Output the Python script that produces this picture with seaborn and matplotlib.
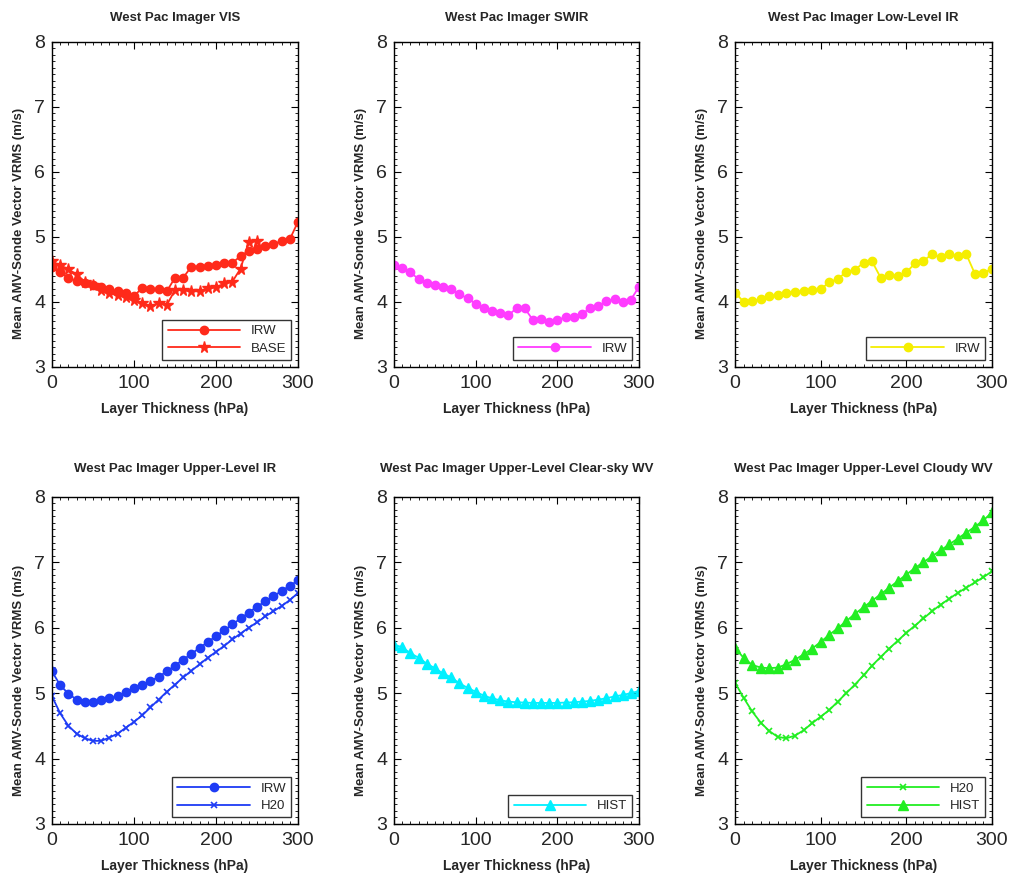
import numpy as np
import pandas as pd
import matplotlib
matplotlib.use("Agg")
import matplotlib.pyplot as plt
import seaborn as sns
from matplotlib.ticker import MultipleLocator

sns.set_theme(style="white")
plt.rcParams['font.family'] = ['Liberation Sans', 'DejaVu Sans']

# Layer thickness (hPa)
thick = list(range(0, 301, 10))
thick_base = list(range(0, 251, 10))

vis_irw = [4.54, 4.45, 4.37, 4.32, 4.29, 4.26, 4.22, 4.19, 4.16, 4.13, 4.09,
           4.21, 4.19, 4.19, 4.16, 4.37, 4.37, 4.54, 4.54, 4.55, 4.57, 4.59,
           4.60, 4.70, 4.78, 4.81, 4.85, 4.88, 4.94, 4.96, 5.23]
vis_base = [4.62, 4.56, 4.50, 4.42, 4.31, 4.26, 4.18, 4.13, 4.10, 4.07, 4.03,
            3.98, 3.93, 3.98, 3.95, 4.18, 4.18, 4.16, 4.16, 4.21, 4.22, 4.28,
            4.31, 4.51, 4.92, 4.94]
swir_irw = [4.57, 4.52, 4.45, 4.35, 4.29, 4.26, 4.23, 4.19, 4.12, 4.05, 3.97,
            3.90, 3.85, 3.82, 3.79, 3.90, 3.90, 3.72, 3.74, 3.69, 3.72, 3.76,
            3.76, 3.81, 3.90, 3.93, 4.01, 4.04, 4.00, 4.03, 4.23]
llir_irw = [4.14, 4.00, 4.01, 4.04, 4.08, 4.10, 4.14, 4.15, 4.16, 4.18, 4.19,
            4.30, 4.35, 4.46, 4.49, 4.60, 4.62, 4.37, 4.41, 4.40, 4.45, 4.59,
            4.63, 4.73, 4.68, 4.73, 4.70, 4.73, 4.43, 4.44, 4.51]
ulir_irw = [5.33, 5.12, 4.99, 4.90, 4.86, 4.86, 4.89, 4.92, 4.95, 5.01, 5.07,
            5.12, 5.18, 5.25, 5.33, 5.42, 5.51, 5.60, 5.69, 5.78, 5.87, 5.96,
            6.05, 6.14, 6.23, 6.32, 6.40, 6.48, 6.56, 6.64, 6.72]
ulir_h2o = [4.95, 4.69, 4.50, 4.38, 4.31, 4.27, 4.27, 4.32, 4.38, 4.47, 4.56,
            4.66, 4.78, 4.90, 5.02, 5.13, 5.24, 5.34, 5.44, 5.54, 5.63, 5.72,
            5.82, 5.91, 6.00, 6.08, 6.17, 6.25, 6.33, 6.42, 6.53]
csw_hist = [5.74, 5.70, 5.61, 5.54, 5.45, 5.38, 5.30, 5.24, 5.15, 5.08, 5.02,
            4.96, 4.92, 4.89, 4.87, 4.86, 4.855, 4.85, 4.85, 4.85, 4.85, 4.855,
            4.86, 4.87, 4.88, 4.90, 4.92, 4.95, 4.97, 5.00, 5.03]
cwv_h2o = [5.16, 4.93, 4.72, 4.55, 4.42, 4.33, 4.31, 4.35, 4.43, 4.54, 4.64,
           4.74, 4.87, 5.00, 5.13, 5.27, 5.42, 5.55, 5.68, 5.80, 5.92, 6.03,
           6.14, 6.25, 6.35, 6.44, 6.53, 6.61, 6.69, 6.77, 6.86]
cwv_hist = [5.69, 5.54, 5.43, 5.39, 5.38, 5.39, 5.44, 5.51, 5.59, 5.68, 5.78,
            5.89, 5.99, 6.10, 6.21, 6.31, 6.41, 6.51, 6.61, 6.71, 6.81, 6.91,
            7.00, 7.09, 7.18, 7.27, 7.36, 7.45, 7.54, 7.64, 7.76]

titles = ["West Pac Imager VIS", "West Pac Imager SWIR",
          "West Pac Imager Low-Level IR", "West Pac Imager Upper-Level IR",
          "West Pac Imager Upper-Level Clear-sky WV",
          "West Pac Imager Upper-Level Cloudy WV"]
xlabel = "Layer Thickness (hPa)"
ylabel = "Mean AMV-Sonde Vector VRMS (m/s)"

RED, MAG, YEL, BLU, CYA, GRN = "#ff2a1a", "#ff3cff", "#f5ee00", "#1e3cf5", "#00f0ff", "#22ee22"

# series per panel: (x, y, label, color, marker, markersize)
panels = [
    [(thick, vis_irw, "IRW", RED, "o", 6), (thick_base, vis_base, "BASE", RED, "*", 8.5)],
    [(thick, swir_irw, "IRW", MAG, "o", 6)],
    [(thick, llir_irw, "IRW", YEL, "o", 6)],
    [(thick, ulir_irw, "IRW", BLU, "o", 6), (thick, ulir_h2o, "H20", BLU, "x", 4)],
    [(thick, csw_hist, "HIST", CYA, "^", 6.5)],
    [(thick, cwv_h2o, "H20", GRN, "x", 4), (thick, cwv_hist, "HIST", GRN, "^", 6.5)],
]

W, H = 1013, 884
fig = plt.figure(figsize=(W / 100, H / 100), dpi=100)
lefts = [52, 394, 735]
rights = [298, 639, 992]
tops = [41.7, 496.7]
bots = [366.7, 824]

for i, series in enumerate(panels):
    r, c = divmod(i, 3)
    wpx = rights[c] - lefts[c]
    hpx = bots[r] - tops[r]
    ax = fig.add_axes([lefts[c] / W, 1 - bots[r] / H, wpx / W, hpx / H])
    for x, y, lab, col, mk, ms in series:
        df = pd.DataFrame({"x": x, "y": y})
        sns.lineplot(data=df, x="x", y="y", ax=ax, color=col, marker=mk,
                     markersize=ms, markeredgecolor=col, markerfacecolor=col,
                     markeredgewidth=1.0 if mk != "x" else 1.2,
                     linewidth=1.3, label=lab, estimator=None, sort=False)
    ax.set_xlim(0, 300)
    ax.set_ylim(3, 8)
    ax.xaxis.set_major_locator(MultipleLocator(100))
    ax.xaxis.set_minor_locator(MultipleLocator(10))
    ax.yaxis.set_major_locator(MultipleLocator(1))
    ax.yaxis.set_minor_locator(MultipleLocator(0.1))
    ax.tick_params(which="both", direction="in", top=True, right=True,
                   bottom=True, left=True, color="black")
    ax.tick_params(which="major", length=5, width=0.8, labelsize=14)
    ax.tick_params(axis="x", which="major", pad=6)
    ax.tick_params(axis="y", which="major", pad=5)
    ax.tick_params(which="minor", length=2.5, width=0.6)
    for s in ax.spines.values():
        s.set_color("black")
        s.set_linewidth(1.0)
    ax.set_title(titles[i], fontsize=9.5, fontweight="bold",
                 pad=15 if r == 0 else 18)
    ax.set_xlabel(xlabel, fontsize=10, fontweight="bold", labelpad=7)
    ax.set_ylabel(ylabel, fontsize=9.5, fontweight="bold")
    ax.yaxis.set_label_coords(-27 / wpx, 0.44)
    leg = ax.legend(loc="lower right", fontsize=9.5, frameon=True, fancybox=False,
                    handlelength=5.5, borderpad=0.4, labelspacing=0.4,
                    borderaxespad=0.5)
    leg.get_frame().set_edgecolor("black")
    leg.get_frame().set_linewidth(1.0)

fig.savefig("out.png", dpi=100, facecolor="white")
